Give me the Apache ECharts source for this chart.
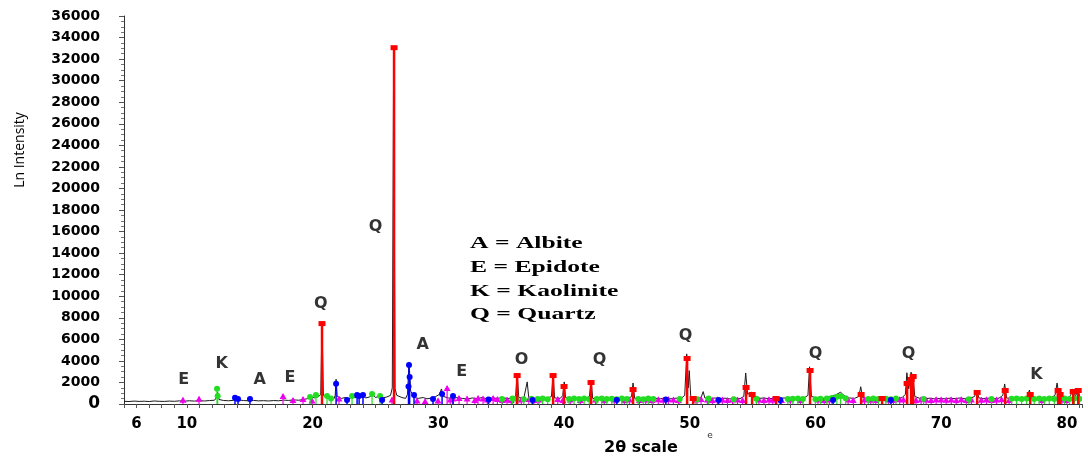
<!DOCTYPE html>
<html>
<head>
<meta charset="utf-8">
<script src="https://cdn.jsdelivr.net/npm/echarts@6/dist/echarts.min.js"></script>
<style>html,body{margin:0;padding:0;background:#fff}#c{width:1088px;height:464px}</style>
</head>
<body>
<div id="c"></div>
<script>
// ---- data (2θ, intensity) ----
var xTickLabels = [6, 10, 20, 30, 40, 50, 60, 70, 80];
var yTickStep = 2000;

var pattern = [
[5,250],[5.4,230],[5.8,270],[6.2,240],[6.6,260],[7,230],[7.4,280],[7.8,250],[8.2,240],[8.6,270],[9,250],[9.4,290],[9.8,260],[10.2,300],[10.6,270],[11,310],[11.4,280],[11.8,320],[12.2,350],[12.35,600],[12.45,1100],[12.55,420],[12.9,330],[13.3,300],[13.7,340],[14.1,380],[14.5,320],[14.9,300],[15.3,330],[15.7,290],[16.1,310],[16.5,280],[16.9,320],[17.3,300],[17.7,360],[18.1,330],[18.5,380],[18.9,350],[19.3,420],[19.6,500],[19.9,650],[20.2,560],[20.5,700],[20.65,900],[20.75,7500],[20.86,800],[21.1,620],[21.4,560],[21.7,480],[21.8,800],[21.87,2300],[21.96,700],[22.3,520],[22.6,600],[22.9,480],[23.2,700],[23.4,560],[23.55,1000],[23.7,700],[24.0,850],[24.2,560],[24.5,640],[24.8,900],[25.0,600],[25.3,720],[25.6,560],[25.9,650],[26.2,800],[26.34,1500],[26.45,33000],[26.56,1400],[26.7,800],[27.1,600],[27.4,520],[27.55,900],[27.67,3900],[27.8,1200],[28.1,600],[28.4,520],[28.8,600],[29.1,480],[29.5,560],[29.8,700],[30.1,900],[30.25,1400],[30.4,700],[30.8,560],[31.1,480],[31.5,600],[31.9,520],[32.3,460],[32.7,560],[33.1,500],[33.5,600],[33.9,480],[34.3,560],[34.7,520],[35.1,600],[35.5,500],[35.9,560],[36.15,700],[36.27,2850],[36.4,600],[36.8,520],[36.95,700],[37.07,2050],[37.2,520],[37.6,480],[38.0,560],[38.4,500],[38.8,600],[39.0,700],[39.13,2750],[39.25,560],[39.7,520],[39.9,800],[40.02,2050],[40.12,600],[40.5,480],[40.9,540],[41.3,480],[41.7,520],[42.02,700],[42.15,2200],[42.28,520],[42.7,480],[43.1,540],[43.5,470],[43.9,520],[44.3,480],[44.7,560],[45.1,480],[45.37,700],[45.49,1950],[45.62,520],[46.1,480],[46.5,540],[46.9,470],[47.3,520],[47.7,490],[48.1,560],[48.5,480],[48.9,540],[49.3,500],[49.6,800],[49.76,4650],[49.88,1500],[49.96,3100],[50.08,700],[50.5,560],[50.9,600],[51.07,1150],[51.2,560],[51.6,500],[52.0,560],[52.4,480],[52.8,540],[53.2,470],[53.6,520],[54.0,500],[54.3,700],[54.45,2880],[54.6,900],[54.9,1100],[55.1,560],[55.5,520],[55.9,560],[56.3,480],[56.7,540],[57.1,500],[57.5,560],[57.9,480],[58.3,520],[58.7,500],[59.1,560],[59.4,800],[59.53,3450],[59.68,700],[60.1,560],[60.5,500],[60.9,600],[61.3,700],[61.7,900],[62.0,1100],[62.3,750],[62.7,560],[63.1,520],[63.45,700],[63.6,1600],[63.75,600],[64.1,520],[64.5,480],[64.9,540],[65.3,600],[65.7,500],[66.1,540],[66.5,480],[66.9,600],[67.15,900],[67.27,2900],[67.42,1400],[67.6,2950],[67.75,2600],[67.9,700],[68.3,520],[68.7,480],[69.1,540],[69.5,470],[69.9,520],[70.3,480],[70.7,540],[71.1,500],[71.5,560],[71.9,480],[72.3,520],[72.65,700],[72.83,1250],[73.0,560],[73.4,500],[73.8,540],[74.2,480],[74.6,540],[74.9,800],[75.05,1860],[75.2,560],[75.6,500],[76.0,540],[76.4,480],[76.8,560],[77.02,1300],[77.15,540],[77.5,500],[77.9,540],[78.3,480],[78.7,560],[79.05,800],[79.22,1950],[79.35,900],[79.6,560],[80.0,500],[80.3,800],[80.48,1400],[80.68,700],[80.88,1350],[81.03,600],[81.2,520]
];

var quartz = [
[20.75,7600],[26.48,33200],[36.27,2780],[39.13,2780],[40.0,1760],[42.15,2130],[45.49,1480],[49.79,4360],[50.27,650],[54.48,1670],[54.96,1020],[56.87,650],[59.57,3250],[63.63,1020],[65.3,650],[67.29,2040],[67.61,2410],[67.77,2690],[72.86,1210],[75.09,1390],[77.08,1020],[79.3,1390],[79.46,1020],[80.5,1300],[80.9,1390]
];

var albite = [
[13.83,770],[14.07,650],[15.02,650],[21.87,2070],[22.74,560],[23.54,1020],[23.7,930],[24.01,1020],[25.53,560],[27.67,3800],[27.72,2700],[27.63,1800],[28.07,1020],[29.58,650],[30.3,1110],[31.17,930],[34.0,600],[37.5,560],[44.2,560],[48.1,600],[52.3,560],[57.2,560],[61.4,560],[66.0,560]
];

var kaolinite = [
[12.4,1600],[12.45,930],[19.8,835],[20.27,1020],[21.15,930],[21.47,700],[23.14,930],[24.73,1110],[25.37,930],[35.07,650],
[35.9,700],[36.2,650],[36.8,620],[37.4,680],[37.9,650],[38.3,700],[38.7,620],[40.4,650],[40.8,700],[41.2,640],[41.6,690],[42.0,620],[42.6,660],[43.0,700],[43.4,640],[43.8,680],[44.2,620],[44.6,700],[45.0,650],[45.9,660],[46.3,620],[46.7,690],[47.1,640],[49.2,650],[50.6,620],[51.5,700],[53.5,620],[55.3,680],[57.8,640],[58.2,680],[58.6,700],[59.0,650],[60.0,620],[60.4,680],[60.9,700],[61.3,750],[61.7,850],[62.0,900],[62.4,720],[64.2,660],[64.6,700],[65.0,640],[65.6,680],[66.0,620],[66.4,700],[68.6,640],[72.2,620],[74.0,640],[75.6,680],[76.0,700],[76.4,640],[76.8,700],[77.4,660],[77.8,700],[78.2,640],[78.6,700],[79.0,660],[79.8,700],[80.2,650],[80.6,700],[81.0,660]
];

var epidote = [
[9.69,590],[10.97,680],[17.65,930],[18.44,560],[19.24,650],[19.96,500],[22.1,700],[26.32,600],[28.31,500],[28.95,450],[29.98,500],[30.7,1670],[31.17,700],[31.65,750],[32.29,700],[33.16,750],[33.56,700],[34.36,750],[35.47,600],
[30.95,600],[32.9,560],[33.9,600],[34.7,650],[35.1,560],[35.8,560],[36.6,600],[37.2,650],[37.6,560],[38.0,600],[39.5,650],[39.9,560],[40.5,600],[41.3,560],[42.5,600],[43.2,560],[44.0,600],[44.8,560],[45.2,600],[46.0,560],[46.5,600],[47.0,560],[47.5,620],[47.9,580],[48.3,640],[48.7,600],[49.1,560],[50.5,600],[50.9,650],[51.4,600],[51.8,560],[52.2,620],[52.6,600],[53.0,560],[53.4,620],[53.8,600],[54.2,560],[55.5,600],[55.9,560],[56.3,620],[56.6,580],[57.3,560],[58.0,600],[58.8,560],[60.2,600],[60.7,560],[61.1,600],[62.6,600],[63.0,560],[63.9,600],[64.4,580],[64.8,560],[65.8,600],[66.2,560],[66.7,620],[67.0,600],[68.0,560],[68.4,620],[68.8,600],[69.2,560],[69.6,620],[70.0,600],[70.4,580],[70.8,600],[71.2,560],[71.6,620],[72.0,560],[72.4,600],[73.2,580],[73.6,620],[74.0,560],[74.4,600],[74.8,620],[75.4,560],[78.0,560],[79.6,600],[80.0,560]
];

var peakLabels = [
{name:'E', value:[9.75,2230]},{name:'K', value:[12.78,3710]},{name:'A', value:[15.8,2230]},{name:'E', value:[18.2,2410]},
{name:'Q', value:[20.65,9280]},{name:'Q', value:[25.0,16430]},{name:'A', value:[28.76,5480]},{name:'E', value:[31.86,2970]},
{name:'O', value:[36.63,4080]},{name:'Q', value:[42.83,4080]},{name:'Q', value:[49.67,6310]},{name:'Q', value:[60.0,4640]},
{name:'Q', value:[67.4,4640]},{name:'K', value:[77.57,2690]}
];

var legendLines = ['A = Albite', 'E = Epidote', 'K = Kaolinite', 'Q = Quartz'];

// ---- rendering ----
function stick(color, lw, shape) {
  return function (params, api) {
    var x = api.value(0), y = api.value(1);
    var p0 = api.coord([x, 0]), p1 = api.coord([x, y]);
    var mk;
    if (shape === 'rect') mk = {type:'rect', shape:{x:p1[0]-3.5, y:p1[1]-1, width:7, height:5}, style:{fill:color}};
    else if (shape === 'circle') mk = {type:'circle', shape:{cx:p1[0], cy:p1[1]+2, r:3}, style:{fill:color}};
    else mk = {type:'polygon', shape:{points:[[p1[0],p1[1]-1],[p1[0]+3.5,p1[1]+5],[p1[0]-3.5,p1[1]+5]]}, style:{fill:color}};
    return {type:'group', children:[
      {type:'line', shape:{x1:p0[0], y1:p0[1], x2:p1[0], y2:p1[1]}, style:{stroke:color, lineWidth:lw}},
      mk
    ]};
  };
}

var chart = echarts.init(document.getElementById('c'), null, {renderer:'canvas'});
var legendGraphics = legendLines.map(function (t, i) {
  return {type:'text', x:470, y:244 + i*23.7, scaleX:1.6, originX:0,
    style:{text:t, font:'bold 16px "Liberation Serif"', fill:'#000', textVerticalAlign:'middle', verticalAlign:'middle'}};
});
chart.setOption({
  animation:false,
  backgroundColor:'#fff',
  grid:{left:124, right:6, top:16, bottom:60, containLabel:false},
  xAxis:{type:'value', min:5, max:81.2, interval:1,
    axisLine:{show:true, onZero:false, lineStyle:{color:'#333', width:1}},
    axisTick:{show:true, length:4, lineStyle:{color:'#555'}},
    splitLine:{show:false},
    axisLabel:{margin:13, color:'#000', fontFamily:'DejaVu Sans', fontWeight:'bold', fontSize:15,
      formatter:function(v){var r=Math.round(v); return (Math.abs(v-r)<1e-6 && xTickLabels.indexOf(r)>=0) ? String(r) : '';}}
  },
  yAxis:{type:'value', min:0, max:36000, interval:yTickStep,
    axisLine:{show:true, onZero:false, lineStyle:{color:'#333', width:1}},
    axisTick:{show:true, length:5, lineStyle:{color:'#555'}},
    minorTick:{show:true, splitNumber:4, length:3, lineStyle:{color:'#777'}},
    splitLine:{show:false},
    axisLabel:{margin:24, color:'#000', fontFamily:'DejaVu Sans', fontWeight:'bold', fontSize:14,
      formatter:function(v){return v===0 ? '{z|0}' : String(v);},
      rich:{z:{fontSize:17, fontWeight:'bold', fontFamily:'DejaVu Sans', color:'#000'}}}
  },
  series:[
    {type:'line', data:pattern, showSymbol:false, symbol:'none', z:1,
      lineStyle:{color:'#1a1a1a', width:1}},
    {type:'custom', data:epidote, renderItem:stick('#ee00ee', 1.2, 'tri'), z:3, clip:true},
    {type:'custom', data:kaolinite, renderItem:stick('#22dd22', 1.2, 'circle'), z:3, clip:true},
    {type:'custom', data:albite, renderItem:stick('#0000ff', 1.5, 'circle'), z:4, clip:true},
    {type:'custom', data:quartz, renderItem:stick('#ff0000', 2.5, 'rect'), z:5, clip:true},
    {type:'scatter', data:peakLabels, symbol:'circle', symbolSize:1, itemStyle:{color:'rgba(0,0,0,0)'}, z:6,
      label:{show:true, position:'inside', formatter:'{b}', color:'#000', fontFamily:'DejaVu Sans', fontWeight:'bold', fontSize:16}}
  ],
  graphic:[
    {type:'text', x:20, y:150, rotation:Math.PI/2,
      style:{text:'Ln Intensity', font:'14px "Open Sans"', fill:'#000', textAlign:'center', textVerticalAlign:'middle', align:'center', verticalAlign:'middle'}},
    {type:'text', x:641, y:448,
      style:{text:'2θ scale', font:'bold 16px "DejaVu Sans"', fill:'#000', textAlign:'center', textVerticalAlign:'middle', align:'center', verticalAlign:'middle'}},
    {type:'text', x:710, y:436,
      style:{text:'e', font:'9px "DejaVu Sans"', fill:'#333', textAlign:'center', textVerticalAlign:'middle', align:'center', verticalAlign:'middle'}}
  ].concat(legendGraphics)
});
</script>
</body>
</html>
